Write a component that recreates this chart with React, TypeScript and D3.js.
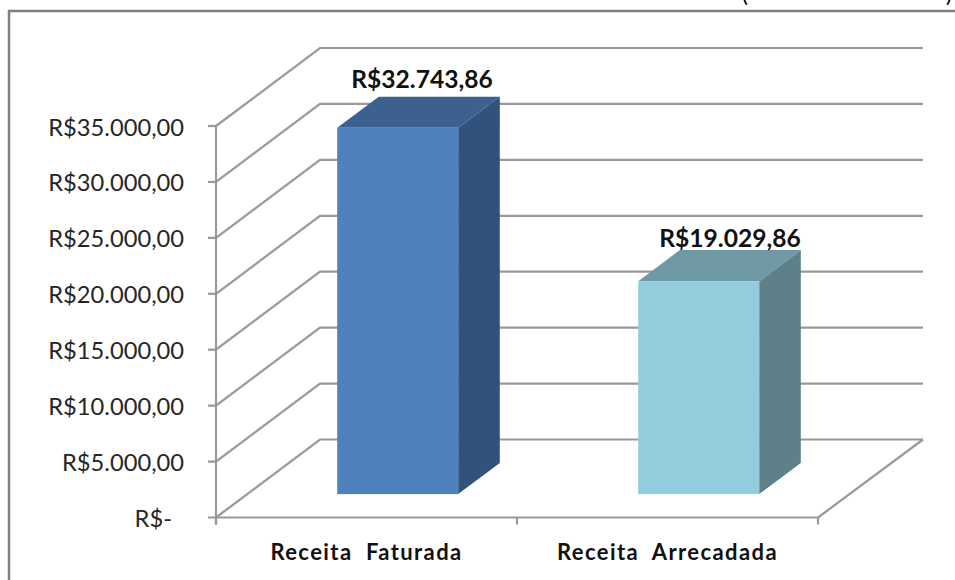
import React from "react";
import * as d3 from "d3";

const categories = ["Receita  Faturada", "Receita  Arrecadada"];
const values = [32743.86, 19029.86];
const valueLabels = ["R$32.743,86", "R$19.029,86"];
const ticks = [0, 5000, 10000, 15000, 20000, 25000, 30000, 35000];
const tickLabels = ["R$-", "R$5.000,00", "R$10.000,00", "R$15.000,00", "R$20.000,00", "R$25.000,00", "R$30.000,00", "R$35.000,00"];
const frontColors = ["#4f81bd", "#93cddd"];
const sideColors = ["#31527a", "#5d8089"];
const topColors = ["#3c618f", "#7099a6"];

const width = 955, height = 580;
const gridColor = "#999999";
const font = "Lato, sans-serif";

// depth of the 3d box
const depthX = 104, depthY = -78;
const barStart = 0.3, barEnd = 0.7;
// data labels sit a bit off the bar centre
const labelDx = [3.5, 10.5];
const labelDy = [-40, -34];

const y = d3.scaleLinear().domain([0, 35000]).range([517.5, 126]);
const x = d3.scaleBand<string>().domain(categories).range([216, 818]).paddingInner(0.598).paddingOuter(0.299);
const edge = d3.scalePoint<string>().domain(categories.concat("end")).range([216, 818]);

const poly = d3.line();

export default function App() {
  const bx = x.bandwidth();
  return (
    <svg width={width} height={height} style={{ position: "absolute", left: 0, top: 0, background: "#fff" }}>
      <rect x={9} y={11} width={1000} height={700} fill="none" stroke="#808080" strokeWidth={2.5} />
      <text x={742} y={2} fontFamily={font} fontSize={22} fill="#000">(</text>
      <text x={946} y={2} fontFamily={font} fontSize={22} fill="#000">)</text>

      {/* parede e piso */}
      {ticks.map((t) => (
        <path key={t} fill="none" stroke={gridColor} strokeWidth={2.2}
          d={poly([[216, y(t)], [216 + depthX, y(t) + depthY], [818 + depthX + 1, y(t) + depthY]]) || ""} />
      ))}
      <path fill="none" stroke={gridColor} strokeWidth={2.2}
        d={poly([[818 + depthX + 1, y(0) + depthY], [818, y(0)]]) || ""} />

      {/* eixos */}
      <line x1={216} x2={216} y1={y(35000)} y2={y(0) + 7} stroke={gridColor} strokeWidth={2.2} />
      <line x1={208} x2={818} y1={y(0)} y2={y(0)} stroke={gridColor} strokeWidth={2.2} />
      {ticks.slice(1).map((t) => (
        <line key={t} x1={208} x2={216} y1={y(t)} y2={y(t)} stroke={gridColor} strokeWidth={2.2} />
      ))}
      {categories.concat("end").map((c) => (
        <line key={c} x1={edge(c)} x2={edge(c)} y1={y(0)} y2={y(0) + 7} stroke={gridColor} strokeWidth={2.2} />
      ))}

      {/* barras */}
      {categories.map((c, i) => {
        const x0 = (x(c) as number) + depthX * barStart;
        const x1 = x0 + bx;
        const base = y(0) + depthY * barStart;
        const top = y(values[i]) + depthY * barStart;
        const dx = depthX * (barEnd - barStart);
        const dy = depthY * (barEnd - barStart);
        return (
          <g key={c}>
            <path fill={sideColors[i]} d={poly([[x1, base], [x1 + dx, base + dy], [x1 + dx, top + dy], [x1, top]]) + "Z"} />
            <path fill={topColors[i]} d={poly([[x0, top], [x0 + dx, top + dy], [x1 + dx, top + dy], [x1, top]]) + "Z"} />
            <rect x={x0} y={top} width={bx} height={base - top} fill={frontColors[i]} />
            <text x={(x0 + x1 + dx) / 2 + labelDx[i]} y={top + labelDy[i]} textAnchor="middle"
              fontFamily={font} fontWeight={700} fontSize={24.6} fill="#111">{valueLabels[i]}</text>
            <text x={(x(c) as number) + bx / 2} y={560} textAnchor="middle"
              fontFamily={font} fontWeight={700} fontSize={22} letterSpacing={1.4} fill="#111" style={{ whiteSpace: "pre" }}>{c}</text>
          </g>
        );
      })}

      {/* rotulos do eixo */}
      {ticks.map((t, i) => (
        <text key={t} x={i === 0 ? 172 : 184} y={y(t) + 9.5} textAnchor="end" fontFamily={font} fontSize={23.7} fill="#262626">
          {tickLabels[i]}
        </text>
      ))}
    </svg>
  );
}
